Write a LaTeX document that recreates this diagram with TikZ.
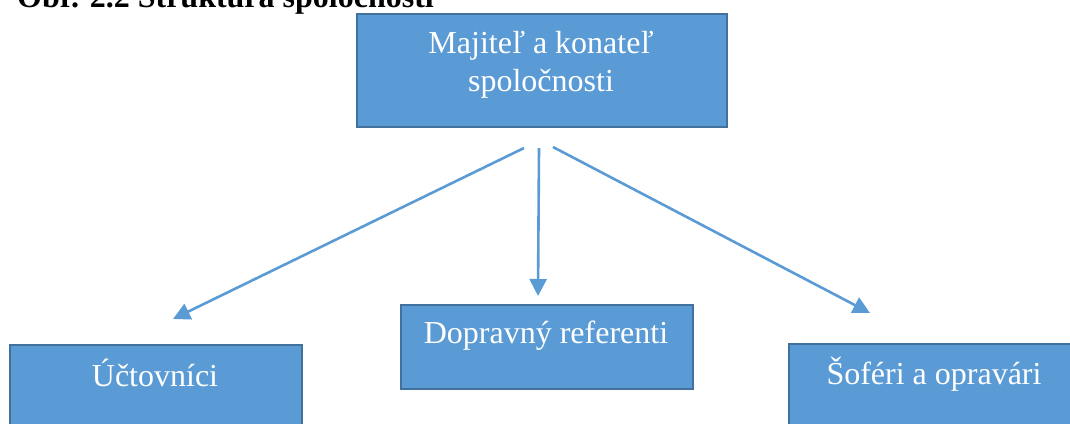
\documentclass[tikz,border=0pt]{standalone}
\usepackage{fontspec}
\setmainfont{Liberation Serif}
\usetikzlibrary{arrows.meta}
\definecolor{boxfill}{HTML}{5B9BD5}
\definecolor{boxline}{HTML}{41719C}
\definecolor{arrowc}{HTML}{5B9BD5}
\begin{document}
\begin{tikzpicture}[x=1pt,y=-1pt,
  box/.style={draw=boxline, line width=2pt, fill=boxfill, rectangle, inner sep=0pt},
  lbl/.style={text=white, font=\fontsize{32}{38}\selectfont, inner sep=0pt, align=center},
  conn/.style={draw=arrowc, line width=2.6pt, -{Triangle[length=17pt,width=17pt]}},
  ttl/.style={font=\bfseries\fontsize{32}{38}\selectfont, inner sep=0pt}]
\useasboundingbox (0,0) rectangle (1070,423);
\path[clip] (0,0) rectangle (1070,423);
\node[box, anchor=north west, minimum width=370pt, minimum height=113pt] (own) at (356,13) {};
\node[box, anchor=north west, minimum width=292pt, minimum height=84pt] (disp) at (400,304) {};
\node[box, anchor=north west, minimum width=292pt, minimum height=110pt] (acc) at (9,344) {};
\node[box, anchor=north west, minimum width=292pt, minimum height=110pt] (drv) at (788,343) {};
\node[ttl, anchor=base west] (title) at (17,7) {Obr. 2.2 Štruktúra spoločnosti};
\node[lbl, anchor=base] (ownt) at (541,91) {Majiteľ a konateľ\\spoločnosti};
\node[lbl, anchor=base] (dispt) at (546,343) {Dopravný referenti};
\node[lbl, anchor=base] (acct) at (155,386) {Účtovníci};
\node[lbl, anchor=base] (drvt) at (934,384) {Šoféri a opravári};
\coordinate (s1) at (524,148);
\coordinate (s2) at (539,148);
\coordinate (s3) at (553,147);
\coordinate (e1) at (173,319);
\coordinate (e2) at (538,296);
\coordinate (e3) at (870,313);
\draw[conn] (s1) -- (e1);
\draw[conn] (s2) -- (e2);
\draw[conn] (s3) -- (e3);
\end{tikzpicture}
\end{document}
